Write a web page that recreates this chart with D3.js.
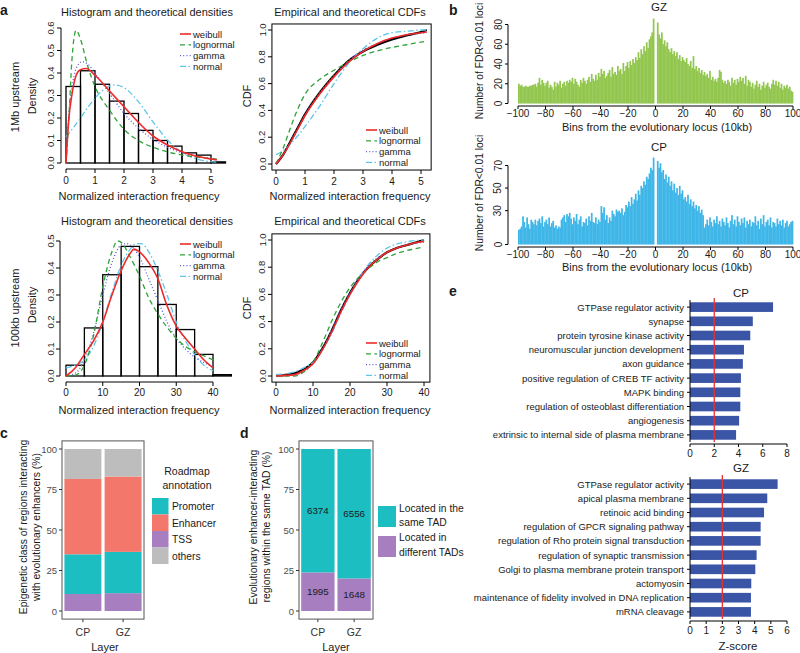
<!DOCTYPE html>
<html><head><meta charset="utf-8">
<script src="https://cdn.jsdelivr.net/npm/d3@7"></script>
<style>body{margin:0;background:#fff}svg{font-family:"Liberation Sans",Arial,Helvetica,sans-serif;display:block}</style>
</head><body><svg id="c" width="800" height="653"></svg>
<script>
// ================= DATA =================
const distNames = ["weibull","lognormal","gamma","normal"];
// panel a, 1Mb upstream histogram (bin left edges, width 0.5)
const h1Edges = [0,0.5,1,1.5,2,2.5,3,3.5,4,4.5,5];
const h1Dens  = [0.34,0.41,0.35,0.275,0.22,0.145,0.10,0.075,0.045,0.035,0.005];
const d1Weibull   = [[0,0],[0.1,0.2],[0.2,0.3],[0.35,0.39],[0.5,0.415],[0.7,0.42],[1,0.39],[1.5,0.32],[2,0.25],[2.5,0.18],[3,0.12],[3.5,0.08],[4,0.05],[4.5,0.03],[5,0.018],[5.2,0.014]];
const d1Lognormal = [[0,0],[0.1,0.2],[0.2,0.45],[0.35,0.59],[0.5,0.55],[0.75,0.43],[1,0.34],[1.5,0.235],[2,0.15],[2.5,0.1],[3,0.07],[3.5,0.05],[4,0.035],[4.5,0.026],[5,0.02],[5.2,0.017]];
const d1Gamma     = [[0,0],[0.1,0.22],[0.2,0.33],[0.35,0.42],[0.55,0.45],[0.75,0.44],[1,0.4],[1.5,0.31],[2,0.22],[2.5,0.155],[3,0.105],[3.5,0.07],[4,0.045],[4.5,0.03],[5,0.02],[5.2,0.015]];
const d1Normal    = [[0,0.116],[0.2,0.148],[0.5,0.2],[0.75,0.247],[1,0.288],[1.5,0.342],[1.7,0.347],[2,0.335],[2.5,0.272],[3,0.183],[3.5,0.102],[4,0.047],[4.5,0.018],[5,0.006],[5.2,0.004]];
const c1Empirical = [[0,0],[0.25,0.07],[0.5,0.17],[0.75,0.27],[1,0.37],[1.5,0.53],[2,0.66],[2.5,0.77],[3,0.84],[3.5,0.89],[4,0.93],[4.5,0.96],[5,0.985],[5.2,1.0]];
const c1Weibull   = [[0,0],[0.25,0.07],[0.5,0.16],[0.75,0.26],[1,0.36],[1.5,0.52],[2,0.65],[2.5,0.76],[3,0.84],[3.5,0.9],[4,0.94],[4.5,0.965],[5,0.98],[5.2,0.985]];
const c1Lognormal = [[0,0],[0.25,0.12],[0.5,0.27],[0.75,0.41],[1,0.52],[1.5,0.63],[2,0.7],[2.5,0.76],[3,0.81],[3.5,0.845],[4,0.87],[4.5,0.89],[5,0.91],[5.2,0.915]];
const c1Gamma     = [[0,0],[0.25,0.07],[0.5,0.17],[0.75,0.27],[1,0.37],[1.5,0.53],[2,0.66],[2.5,0.77],[3,0.85],[3.5,0.9],[4,0.94],[4.5,0.96],[5,0.975],[5.2,0.98]];
const c1Normal    = [[0,0.07],[0.25,0.1],[0.5,0.15],[0.75,0.21],[1,0.28],[1.5,0.43],[2,0.6],[2.5,0.75],[3,0.86],[3.5,0.94],[4,0.98],[4.5,0.99],[5,1.0],[5.2,1.0]];
// panel a, 100kb upstream histogram (bin left edges, width 5)
const h2Edges = [0,5,10,15,20,25,30,35,40];
const h2Dens  = [0.04,0.178,0.375,0.48,0.405,0.265,0.172,0.08,0.005];
const d2Weibull   = [[0,0],[2.5,0.03],[5,0.08],[7.5,0.13],[10,0.2],[12.5,0.3],[15,0.39],[17.5,0.455],[18.5,0.47],[20,0.46],[22.5,0.42],[25,0.36],[27.5,0.26],[30,0.185],[32.5,0.14],[35,0.1],[37.5,0.06],[40,0.03]];
const d2Lognormal = [[0,0],[2.5,0.003],[5,0.04],[7.5,0.15],[10,0.33],[12.5,0.46],[14,0.5],[15,0.495],[17.5,0.44],[20,0.37],[22.5,0.29],[25,0.23],[27.5,0.18],[30,0.14],[32.5,0.11],[35,0.09],[37.5,0.075],[40,0.06]];
const d2Gamma     = [[0,0],[2.5,0.01],[5,0.06],[7.5,0.16],[10,0.3],[12.5,0.42],[15,0.485],[16.5,0.49],[17.5,0.485],[20,0.44],[22.5,0.36],[25,0.28],[27.5,0.2],[30,0.14],[32.5,0.1],[35,0.07],[37.5,0.05],[40,0.035]];
const d2Normal    = [[0,0.03],[2.5,0.04],[5,0.06],[7.5,0.11],[10,0.2],[12.5,0.31],[15,0.41],[17.5,0.47],[19,0.49],[20.5,0.49],[22.5,0.46],[25,0.39],[27.5,0.3],[30,0.2],[32.5,0.13],[35,0.08],[37.5,0.04],[40,0.02]];
const c2Empirical = [[0,0],[5,0.02],[7.5,0.05],[10,0.1],[12.5,0.2],[15,0.33],[17.5,0.48],[20,0.61],[22.5,0.72],[25,0.8],[27.5,0.86],[30,0.91],[32.5,0.94],[35,0.96],[37.5,0.98],[40,1.0]];
const c2Weibull   = [[0,0],[5,0.01],[7.5,0.04],[10,0.09],[12.5,0.19],[15,0.32],[17.5,0.47],[20,0.6],[22.5,0.71],[25,0.8],[27.5,0.86],[30,0.91],[32.5,0.94],[35,0.96],[37.5,0.98],[40,0.99]];
const c2Lognormal = [[0,0],[5,0.0],[7.5,0.03],[10,0.1],[12.5,0.24],[15,0.4],[17.5,0.54],[20,0.65],[22.5,0.73],[25,0.79],[27.5,0.84],[30,0.87],[32.5,0.9],[35,0.92],[37.5,0.935],[40,0.95]];
const c2Gamma     = [[0,0],[5,0.01],[7.5,0.03],[10,0.09],[12.5,0.2],[15,0.34],[17.5,0.49],[20,0.62],[22.5,0.73],[25,0.81],[27.5,0.87],[30,0.91],[32.5,0.94],[35,0.96],[37.5,0.975],[40,0.985]];
const c2Normal    = [[0,0.01],[5,0.03],[7.5,0.06],[10,0.1],[12.5,0.19],[15,0.31],[17.5,0.46],[20,0.6],[22.5,0.72],[25,0.82],[27.5,0.89],[30,0.94],[32.5,0.97],[35,0.985],[37.5,0.995],[40,1.0]];

// panel b: counts per 10kb bin; left bins -100..-2, right bins 1..99
const gzLeft = [20,18,19,17,17,18,17,17,18,18, 19,19,20,17,21,26,19,24,21,18, 21,23,16,19,17,14,22,17,21,19,
  23,16,20,22,18,23,21,24,22,26, 20,25,22,19,17,24,21,26,23,20, 24,27,22,30,25,23,29,24,31,27,
  35,30,33,26,28,31,34,27,37,30, 32,29,38,33,35,30,41,33,38,42, 36,43,39,45,41,47,44,52,46,55,
  50,58,53,62,56,65,68,72,86];
const gzRight = [82,70,66,72,60,64,58,62,55,52, 56,50,53,48,52,45,49,43,47,44, 42,46,40,38,43,36,48,35,38,33,
  36,31,34,29,32,28,30,26,33,24, 27,23,25,22,26,34,32,24,21,23, 20,24,22,18,26,21,24,19,25,22,
  27,23,26,20,28,18,24,22,17,21, 15,19,23,17,20,14,18,22,16,19, 21,17,15,20,24,19,23,18,22,16,
  20,14,18,16,19,15,17,13,12];
const cpLeft = [13,14,16,25,20,15,24,18,14,22, 20,18,22,17,21,23,19,25,16,20, 22,18,24,16,19,21,15,17,14,16,
  15,22,24,26,20,27,25,28,23,18, 24,21,27,18,22,25,16,20,19,23, 17,25,21,28,20,19,24,18,22,20,
  34,28,33,22,26,19,24,21,30,27, 25,31,29,30,28,32,26,29,35,33, 38,34,42,36,40,45,39,48,44,52,
  50,56,53,60,58,63,68,66,77];
const cpRight = [74,68,72,64,66,58,62,55,60,52, 56,48,54,46,50,44,52,45,48,40, 42,38,44,36,40,34,38,32,35,30,
  34,28,31,26,15,18,22,17,24,20, 16,22,19,25,18,21,16,23,20,17, 24,19,15,21,26,18,22,16,25,20,
  17,23,19,24,15,21,18,22,16,20, 19,25,17,21,14,23,18,26,16,20, 22,17,24,15,20,19,16,23,18,21,
  17,22,15,19,21,16,18,20,21];
const gzTicksY = [0,20,40,60,80];
const cpTicksY = [0,30,50,70];
const binTicks = [-100,-80,-60,-40,-20,0,20,40,60,80,100];

// panel c
const layers = ["CP","GZ"];
const cClasses = ["TSS","Promoter","Enhancer","others"];
const cTSS = [10.5, 11];
const cPromoter = [24.5, 25.5];
const cEnhancer = [46.5, 46.5];
const cOthers = [18.5, 17];
const legendOrderC = ["Promoter","Enhancer","TSS","others"];
// panel d
const dDifferent = [1995, 1648];
const dSame = [6374, 6556];
const pctTicks = [0,25,50,75,100];

// panel e
const eCPTerms = ["GTPase regulator activity","synapse","protein tyrosine kinase activity","neuromuscular junction development",
  "axon guidance","positive regulation of CREB TF activity","MAPK binding","regulation of osteoblast differentiation",
  "angiogenesis","extrinsic to internal side of plasma membrane"];
const eCPZ = [6.85,5.18,4.97,4.45,4.36,4.2,4.15,4.15,4.05,3.8];
const eGZTerms = ["GTPase regulator activity","apical plasma membrane","retinoic acid binding","regulation of GPCR signaling pathway",
  "regulation of Rho protein signal transduction","regulation of synaptic transmission","Golgi to plasma membrane protein transport",
  "actomyosin","maintenance of fidelity involved in DNA replication","mRNA cleavage"];
const eGZZ = [5.42,4.78,4.58,4.37,4.37,4.12,4.04,3.79,3.77,3.77];
const eThreshold = 2;

// ================= DRAWING =================
const svg = d3.select("#c");
const distStyle = {
  weibull:   {stroke:"#ee2a2a", w:1.6, dash:null},
  lognormal: {stroke:"#2fa33a", w:1.3, dash:"5,3.5"},
  gamma:     {stroke:"#5a5ad0", w:1.3, dash:"1,2.2"},
  normal:    {stroke:"#5cc6ea", w:1.3, dash:"6,2.5,1.5,2.5"}
};
function txt(g,x,y,s,o={}){
  const t=g.append("text").attr("x",x).attr("y",y).text(s)
    .attr("font-size",o.size||10).attr("text-anchor",o.anchor||"middle").attr("fill",o.fill||"#1a1a1a");
  if(o.rot) t.attr("transform",`rotate(-90,${x},${y})`);
  if(o.central) t.attr("dominant-baseline","central");
  if(o.weight) t.attr("font-weight",o.weight);
  return t;
}
function ln(g,x1,y1,x2,y2,st="#000",w=1){
  return g.append("line").attr("x1",x1).attr("y1",y1).attr("x2",x2).attr("y2",y2).attr("stroke",st).attr("stroke-width",w);
}
// R-style axes
function rAxisY(g,y,ticks,x0,lx,fmt,o={}){
  if(o.line!==false) ln(g,x0,y(ticks[0]),x0,y(ticks[ticks.length-1]));
  ticks.forEach(t=>{ ln(g,x0-(o.tl||4),y(t),x0,y(t)); txt(g,lx,y(t),fmt(t),{size:o.size||9.5,rot:true,central:true}); });
}
function rAxisX(g,x,ticks,y0,ly,fmt,o={}){
  if(o.line!==false) ln(g,x(ticks[0]),y0,x(ticks[ticks.length-1]),y0);
  ticks.forEach(t=>{ ln(g,x(t),y0,x(t),y0+(o.tl||4)); txt(g,x(t),ly,fmt(t),{size:o.size||10}); });
}
function curve(g,pts,x,y,name,wOverride,strokeOverride){
  const s=distStyle[name]||{stroke:"#000",w:2,dash:null};
  const p=g.append("path").datum(pts)
    .attr("d",d3.line().x(d=>x(d[0])).y(d=>y(d[1])).curve(d3.curveMonotoneX))
    .attr("fill","none").attr("stroke",strokeOverride||s.stroke).attr("stroke-width",wOverride||s.w);
  if(s.dash && !strokeOverride) p.attr("stroke-dasharray",s.dash);
}
function legendA(g,x0,y0,dy){
  distNames.forEach((n,i)=>{
    const s=distStyle[n];
    const l=ln(g,x0,y0+i*dy,x0+11,y0+i*dy,s.stroke,s.w);
    if(s.dash) l.attr("stroke-dasharray",s.dash);
    txt(g,x0+13,y0+i*dy,n,{size:9.5,anchor:"start",central:true});
  });
}
const f1=d3.format(".1f");
const TS=11; // title/label size

// ---- a: densities 1Mb
(function(){
  const g=svg.append("g");
  const x=d3.scaleLinear([0,5],[66,211]), y=d3.scaleLinear([0,0.6],[163,28]);
  g.selectAll("rect.h").data(h1Dens).join("rect")
    .attr("x",(d,i)=>x(h1Edges[i])).attr("width",x(0.5)-x(0))
    .attr("y",d=>y(d)).attr("height",d=>y(0)-y(d))
    .attr("fill","none").attr("stroke","#000").attr("stroke-width",1.3);
  curve(g,d1Normal,x,y,"normal"); curve(g,d1Gamma,x,y,"gamma");
  curve(g,d1Lognormal,x,y,"lognormal"); curve(g,d1Weibull,x,y,"weibull");
  rAxisY(g,y,[0,0.1,0.2,0.3,0.4,0.5,0.6],61,50,f1);
  rAxisX(g,x,[0,1,2,3,4,5],169,184,d3.format("d"));
  legendA(g,180,34,10.8);
  txt(g,147,16,"Histogram and theoretical densities",{size:TS});
  txt(g,139,200,"Normalized interaction frequency",{size:TS});
  txt(g,32,96,"Density",{size:TS,rot:true,central:true});
  txt(g,15,97,"1Mb upstream",{size:TS,rot:true,central:true});
})();
// ---- a: CDF 1Mb
(function(){
  const g=svg.append("g");
  const x=d3.scaleLinear([0,5],[276,421]), y=d3.scaleLinear([0,1],[164,30]);
  g.append("rect").attr("x",x(-0.14)).attr("y",y(1.045)).attr("width",x(5.35)-x(-0.14)).attr("height",y(-0.045)-y(1.045))
    .attr("fill","none").attr("stroke","#000");
  curve(g,c1Empirical,x,y,"emp",2.2,"#000");
  curve(g,c1Normal,x,y,"normal"); curve(g,c1Gamma,x,y,"gamma");
  curve(g,c1Lognormal,x,y,"lognormal"); curve(g,c1Weibull,x,y,"weibull");
  rAxisY(g,y,[0,0.2,0.4,0.6,0.8,1],x(-0.14),262,f1,{line:false});
  rAxisX(g,x,[0,1,2,3,4,5],y(-0.045),185,d3.format("d"),{line:false});
  legendA(g,366,130,10.8);
  txt(g,350,16,"Empirical and theoretical CDFs",{size:TS});
  txt(g,350,200,"Normalized interaction frequency",{size:TS});
  txt(g,247,96,"CDF",{size:TS,rot:true,central:true});
})();
// ---- a: densities 100kb
(function(){
  const g=svg.append("g");
  const x=d3.scaleLinear([0,40],[66,213]), y=d3.scaleLinear([0,0.5],[376,241]);
  g.selectAll("rect.h").data(h2Dens).join("rect")
    .attr("x",(d,i)=>x(h2Edges[i])).attr("width",x(5)-x(0))
    .attr("y",d=>y(d)).attr("height",d=>y(0)-y(d))
    .attr("fill","none").attr("stroke","#000").attr("stroke-width",1.3);
  curve(g,d2Normal,x,y,"normal"); curve(g,d2Gamma,x,y,"gamma");
  curve(g,d2Lognormal,x,y,"lognormal"); curve(g,d2Weibull,x,y,"weibull");
  rAxisY(g,y,[0,0.1,0.2,0.3,0.4,0.5],60,50,f1);
  rAxisX(g,x,[0,10,20,30,40],382,396,d3.format("d"));
  legendA(g,180,244,10.8);
  txt(g,147,225,"Histogram and theoretical densities",{size:TS});
  txt(g,139,414,"Normalized interaction frequency",{size:TS});
  txt(g,32,305,"Density",{size:TS,rot:true,central:true});
  txt(g,15,308,"100kb upstream",{size:TS,rot:true,central:true});
})();
// ---- a: CDF 100kb
(function(){
  const g=svg.append("g");
  const x=d3.scaleLinear([0,40],[276,424]), y=d3.scaleLinear([0,1],[376,240]);
  g.append("rect").attr("x",x(-1.1)).attr("y",y(1.045)).attr("width",x(41.6)-x(-1.1)).attr("height",y(-0.045)-y(1.045))
    .attr("fill","none").attr("stroke","#000");
  curve(g,c2Empirical,x,y,"emp",2.2,"#000");
  curve(g,c2Normal,x,y,"normal"); curve(g,c2Gamma,x,y,"gamma");
  curve(g,c2Lognormal,x,y,"lognormal"); curve(g,c2Weibull,x,y,"weibull");
  rAxisY(g,y,[0,0.2,0.4,0.6,0.8,1],x(-1.1),262,f1,{line:false});
  rAxisX(g,x,[0,10,20,30,40],y(-0.045),396,d3.format("d"),{line:false});
  legendA(g,366,343,10.8);
  txt(g,350,225,"Empirical and theoretical CDFs",{size:TS});
  txt(g,350,414,"Normalized interaction frequency",{size:TS});
  txt(g,247,308,"CDF",{size:TS,rot:true,central:true});
})();

// ---- b
function panelB(left,right,yDom,yRange,ticks,color,title,titleY,axisY,xlabY,ylabY){
  const g=svg.append("g");
  const x=d3.scaleLinear([-100,100],[518,793]);
  const y=d3.scaleLinear(yDom,yRange);
  const bins=[...left.map((v,i)=>({b:-100+i,v})),...right.map((v,i)=>({b:1+i,v}))];
  g.selectAll("rect").data(bins).join("rect")
    .attr("x",d=>x(d.b)).attr("width",x(1)-x(0)+0.35)
    .attr("y",d=>y(d.v)).attr("height",d=>y(0)-y(d.v)).attr("fill",color);
  rAxisY(g,y,ticks,508,498,d3.format("d"),{tl:3,size:10});
  rAxisX(g,x,binTicks,axisY,axisY+11,d=>d<0?"\u2212"+(-d):""+d,{tl:3,size:10});
  txt(g,659,titleY,title,{size:11.5});
  txt(g,657,xlabY,"Bins from the evolutionary locus (10kb)",{size:11});
  txt(g,479,ylabY,"Number of FDR<0.01 loci",{size:10.3,rot:true,central:true});
}
panelB(gzLeft,gzRight,[0,80],[103.5,24.5],gzTicksY,"#92c64f","GZ",11,106,131,61);
panelB(cpLeft,cpRight,[0,70],[244.5,165.5],cpTicksY,"#3fb6e8","CP",151,247,271,193);

// ---- c
(function(){
  const g=svg.append("g");
  const x=d3.scaleBand(layers,[62,144]).paddingInner(0.08).paddingOuter(0.06);
  const y=d3.scaleLinear([0,100],[611,449]);
  const col={Promoter:"#1dbec2",Enhancer:"#f4776c",TSS:"#a77fc1",others:"#bdbdbd"};
  const vals={TSS:cTSS,Promoter:cPromoter,Enhancer:cEnhancer,others:cOthers};
  const rows=layers.map((l,i)=>{const r={layer:l}; cClasses.forEach(c=>r[c]=vals[c][i]); return r;});
  const stack=d3.stack().keys(cClasses)(rows);
  stack.forEach(s=>{
    g.selectAll(null).data(s).join("rect").attr("x",d=>x(d.data.layer)).attr("width",x.bandwidth())
      .attr("y",d=>y(d[1])).attr("height",d=>y(d[0])-y(d[1])).attr("fill",col[s.key]);
  });
  g.append("rect").attr("x",62).attr("y",y(105)).attr("width",82).attr("height",y(-5)-y(105)).attr("fill","none").attr("stroke","#555");
  pctTicks.forEach(t=>{ ln(g,59,y(t),62,y(t),"#333"); txt(g,57,y(t),t,{size:9.5,anchor:"end",central:true,fill:"#4d4d4d"}); });
  layers.forEach(l=>{ const cx=x(l)+x.bandwidth()/2; ln(g,cx,y(-5),cx,y(-5)+3,"#333"); txt(g,cx,636,l,{size:10.5,fill:"#333"}); });
  txt(g,105,651,"Layer",{size:11});
  txt(g,23,527,"Epigenetic class of regions interacting",{size:10.4,rot:true,central:true});
  txt(g,36,527,"with evolutionary enhancers (%)",{size:10.4,rot:true,central:true});
  txt(g,187,475,"Roadmap",{size:10.5}); txt(g,187,489,"annotation",{size:10.5});
  legendOrderC.forEach((k,i)=>{
    g.append("rect").attr("x",152).attr("y",498+i*16.5).attr("width",16.5).attr("height",16.5).attr("fill",col[k]);
    txt(g,172,498+i*16.5+8.5,k,{size:10.3,anchor:"start",central:true});
  });
})();
// ---- d
(function(){
  const g=svg.append("g");
  const x=d3.scaleBand(layers,[299,373]).paddingInner(0.08).paddingOuter(0.06);
  const y=d3.scaleLinear([0,100],[611,449]);
  const rows=layers.map((l,i)=>{const tot=dDifferent[i]+dSame[i];
    return {layer:l,different:dDifferent[i]/tot*100,same:dSame[i]/tot*100,nd:dDifferent[i],ns:dSame[i]};});
  const stack=d3.stack().keys(["different","same"])(rows);
  const col={same:"#1dbec2",different:"#a77fc1"};
  stack.forEach(s=>{
    g.selectAll(null).data(s).join("rect").attr("x",d=>x(d.data.layer)).attr("width",x.bandwidth())
      .attr("y",d=>y(d[1])).attr("height",d=>y(d[0])-y(d[1])).attr("fill",col[s.key]);
    g.selectAll(null).data(s).join("text").attr("x",d=>x(d.data.layer)+x.bandwidth()/2).attr("y",d=>y((d[0]+d[1])/2))
      .attr("text-anchor","middle").attr("dominant-baseline","central").attr("font-size",9.8).attr("fill","#1a1a1a")
      .text(d=>s.key==="same"?d.data.ns:d.data.nd);
  });
  g.append("rect").attr("x",299).attr("y",y(105)).attr("width",74).attr("height",y(-5)-y(105)).attr("fill","none").attr("stroke","#555");
  pctTicks.forEach(t=>{ ln(g,296,y(t),299,y(t),"#333"); txt(g,294,y(t),t,{size:9.5,anchor:"end",central:true,fill:"#4d4d4d"}); });
  layers.forEach(l=>{ const cx=x(l)+x.bandwidth()/2; ln(g,cx,y(-5),cx,y(-5)+3,"#333"); txt(g,cx,636,l,{size:10.5,fill:"#333"}); });
  txt(g,336,651,"Layer",{size:11});
  txt(g,253,527,"Evolutionary enhancer-interacting",{size:10.4,rot:true,central:true});
  txt(g,266,527,"regions within the same TAD (%)",{size:10.4,rot:true,central:true});
  g.append("rect").attr("x",378).attr("y",506).attr("width",18).attr("height",21).attr("fill",col.same);
  g.append("rect").attr("x",378).attr("y",536).attr("width",18).attr("height",21).attr("fill",col.different);
  txt(g,399,512,"Located in the",{size:10.3,anchor:"start"}); txt(g,399,526,"same TAD",{size:10.3,anchor:"start"});
  txt(g,399,541,"Located in",{size:10.3,anchor:"start"}); txt(g,399,556,"different TADs",{size:10.3,anchor:"start"});
})();
// ---- e
function panelE(terms,vals,xMax,xTicks,yr,title,titleY,axisY){
  const g=svg.append("g");
  const x=d3.scaleLinear([0,xMax],[690,787]);
  const y=d3.scaleBand(terms,yr).paddingInner(0.32).paddingOuter(0.16);
  g.selectAll("rect").data(terms).join("rect").attr("x",x(0)).attr("y",d=>y(d)).attr("height",y.bandwidth())
    .attr("width",(d,i)=>x(vals[i])-x(0)).attr("fill","#3b55a6");
  ln(g,x(eThreshold),yr[0]-2,x(eThreshold),yr[1],"#e8302f",1.3);
  ln(g,690,yr[0],690,yr[1]);
  terms.forEach(t=>{ const cy=y(t)+y.bandwidth()/2; ln(g,687,cy,690,cy); txt(g,684,cy,t,{size:9.5,anchor:"end",central:true}); });
  rAxisX(g,x,xTicks,axisY,axisY+12.5,d3.format("d"),{tl:3,size:10});
  txt(g,741,titleY,title,{size:11.5});
}
panelE(eCPTerms,eCPZ,8,[0,2,4,6,8],[300,442],"CP",297,444);
panelE(eGZTerms,eGZZ,6,[0,1,2,3,4,5,6],[477,619],"GZ",472,621);
txt(svg,738,650,"Z-score",{size:11.5});

// panel letters
txt(svg,0,15,"a",{size:14,weight:"bold",anchor:"start"});
txt(svg,449,15,"b",{size:14,weight:"bold",anchor:"start"});
txt(svg,0,438,"c",{size:14,weight:"bold",anchor:"start"});
txt(svg,240,438,"d",{size:14,weight:"bold",anchor:"start"});
txt(svg,449,296,"e",{size:14,weight:"bold",anchor:"start"});
</script></body></html>
